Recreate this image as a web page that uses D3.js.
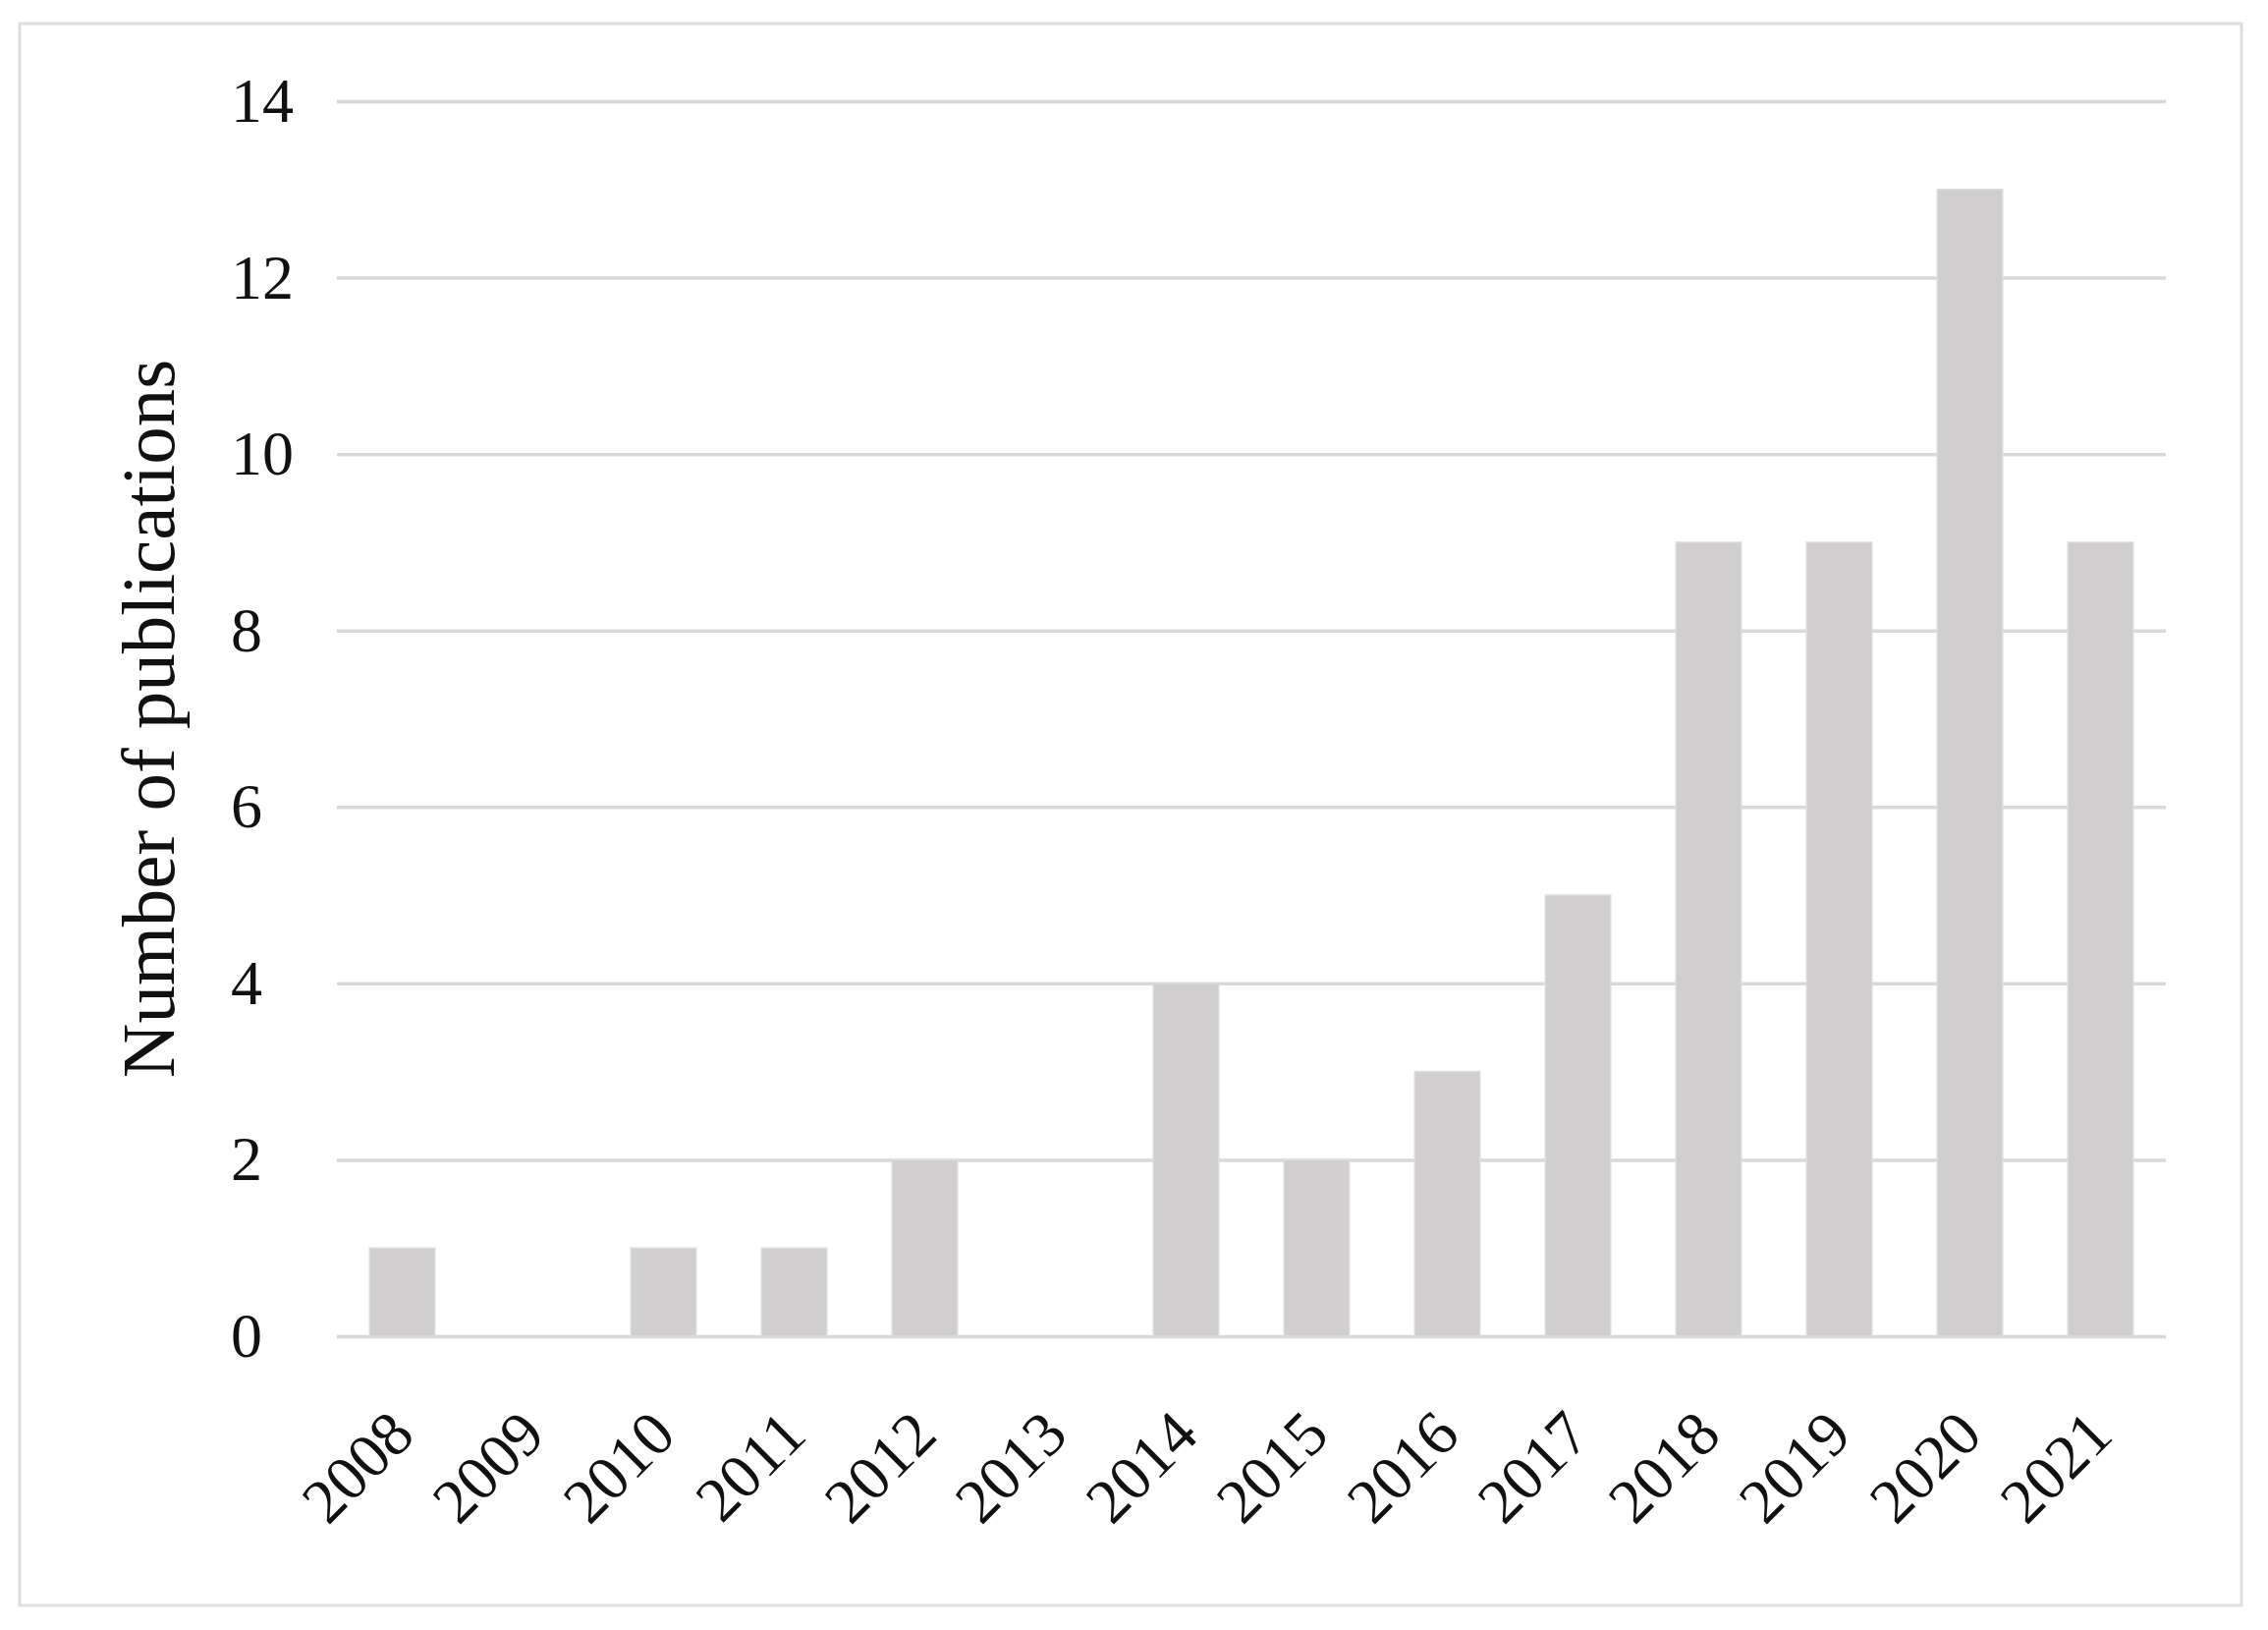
<!DOCTYPE html>
<html>
<head>
<meta charset="utf-8">
<script src="https://cdn.jsdelivr.net/npm/d3@7"></script>
<style>
  body { margin: 0; background: #fff; }
  svg text { font-family: "Liberation Serif", "Times New Roman", serif; fill: #111; }
</style>
</head>
<body>
<svg id="chart" width="2309" height="1659"></svg>
<script>
(function(){
    'use strict';

    // Chart data
    const years = ['2008', '2009', '2010', '2011', '2012', '2013', '2014',
                   '2015', '2016', '2017', '2018', '2019', '2020', '2021'];
    const publications = [1, 0, 1, 1, 2, 0, 4, 2, 3, 5, 9, 9, 13, 9];
    const yTicks = [0, 2, 4, 6, 8, 10, 12, 14];

    const width = 2309;
    const height = 1659;
    const margin = {top: 103, bottom: 299, left: 343, right: 104};

    const svg = d3.select('#chart');

    // outer frame
    svg.append('rect')
        .attr('x', 20).attr('y', 24)
        .attr('width', 2262).attr('height', 1610)
        .attr('fill', 'none')
        .attr('stroke', '#dedede')
        .attr('stroke-width', 3);

    const x = d3.scaleBand()
        .domain(years)
        .range([margin.left, width - margin.right])
        .paddingInner(0.5)
        .paddingOuter(0.25);

    const y = d3.scaleLinear()
        .domain([0, 14])
        .range([height - margin.bottom, margin.top]);

    // gridlines + y labels (labels sit flush-left like the original)
    function yAxis(g){
        g.attr('transform', `translate(${margin.left}, 0)`)
            .call(d3.axisLeft(y).tickValues(yTicks)
                .tickSize(-(width - margin.left - margin.right)))
            .call(g => g.select('.domain').remove())
            .call(g => g.selectAll('.tick line')
                .attr('stroke', '#d8d8d8')
                .attr('stroke-width', 3.5))
            .call(g => g.selectAll('.tick text')
                .attr('x', -108)
                .attr('text-anchor', 'start')
                .attr('font-size', 64)
                .attr('font-family', '"Liberation Serif", serif')
                .attr('fill', '#111'));
    }
    svg.append('g').call(yAxis);

    // bars
    svg.append('g')
        .selectAll('rect')
        .data(publications)
        .enter()
        .append('rect')
            .attr('x', (_d, i) => x(years[i]))
            .attr('y', d => y(d))
            .attr('width', x.bandwidth())
            .attr('height', d => y(0) - y(d))
            .attr('fill', '#d0cecf')
            .attr('stroke', '#dcdcdc')
            .attr('stroke-width', 1.5);

    // rotated year labels
    svg.append('g')
        .selectAll('text')
        .data(years)
        .enter()
        .append('text')
            .attr('transform', d => `translate(${x(d) + x.bandwidth() / 2 + 15}, ${y(0) + 103}) rotate(-45)`)
            .attr('text-anchor', 'end')
            .attr('font-size', 64)
            .text(d => d);

    // y axis title
    svg.append('text')
        .attr('transform', `translate(177, ${(y(0) + y(14)) / 2}) rotate(-90)`)
        .attr('text-anchor', 'middle')
        .attr('font-size', 77)
        .text('Number of publications');
})();
</script>
</body>
</html>
